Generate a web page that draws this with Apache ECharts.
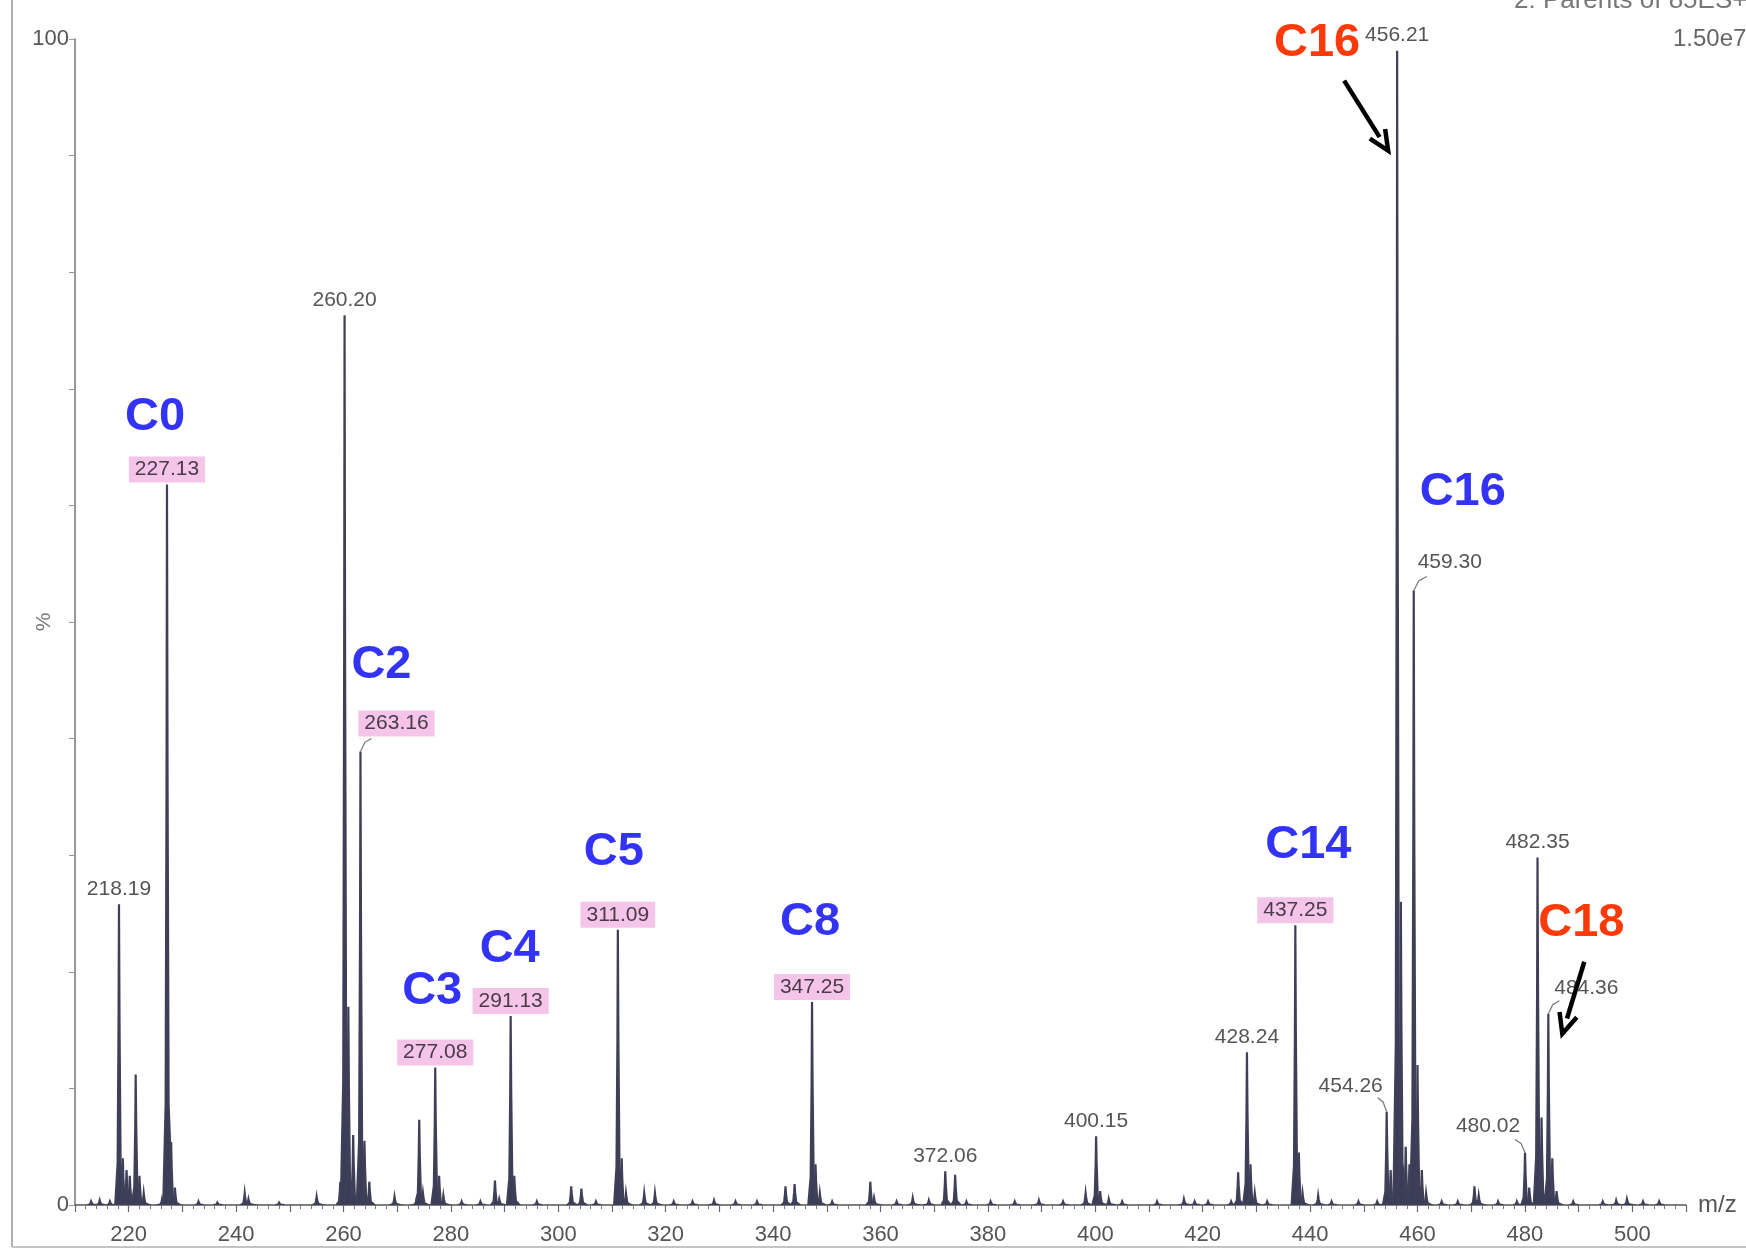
<!DOCTYPE html>
<html><head><meta charset="utf-8">
<script src="https://cdn.jsdelivr.net/npm/echarts@6/dist/echarts.min.js"></script>
<style>html,body{margin:0;padding:0;background:#fff}#c{width:1746px;height:1253px}</style>
</head><body><div id="c"></div>
<script>
// ---------- DATA ----------
const peakMz = [213.0,214.6,216.5,218.19,218.9,219.6,220.2,221.3,222.0,222.8,226.2,227.13,227.9,228.6,233.0,236.5,241.6,242.3,248.0,255.0,
  259.4,260.20,260.9,261.8,263.16,263.9,264.8,269.5,273.6,274.1,274.8,277.08,277.8,278.6,282.0,285.5,288.2,289.0,291.13,291.8,
  296.0,302.4,304.3,307.0,311.09,311.8,312.6,316.0,318.0,321.5,325.0,329.0,333.0,337.0,342.3,344.0,347.25,347.9,348.7,351.0,
  358.1,358.8,363.0,366.0,369.0,372.06,373.9,376.0,380.5,385.0,389.5,394.0,398.2,400.15,400.9,402.5,405.0,411.5,416.5,418.5,
  421.0,425.3,426.6,428.24,428.9,429.7,432.0,437.25,437.9,438.6,441.5,444.0,449.0,452.5,454.26,455.0,456.21,456.9,457.8,458.5,
  459.30,460.0,460.8,461.6,464.5,467.5,470.6,471.4,475.0,478.5,480.02,480.8,482.35,483.1,484.36,485.1,485.9,489.0,494.5,497.0,
  499.0,502.0,505.0];
const peakPct = [0.3,0.4,0.3,25.8,4.0,3.0,2.5,11.2,2.5,1.0,0.5,61.8,5.4,1.5,0.3,0.2,1.0,0.5,0.2,0.7,
  2.0,76.3,17.0,6.0,38.9,5.5,2.0,0.7,0.5,7.3,1.0,11.8,2.5,0.8,0.3,0.3,2.1,0.5,16.2,2.5,
  0.3,1.6,1.4,0.3,23.6,4.0,1.0,1.0,1.0,0.3,0.3,0.4,0.3,0.3,1.6,1.8,17.4,3.5,1.0,0.3,
  2.0,0.6,0.3,0.6,0.4,2.9,2.6,0.3,0.3,0.3,0.4,0.3,1.0,5.9,1.2,0.5,0.3,0.3,0.5,0.3,
  0.3,0.3,2.8,13.1,3.5,1.0,0.3,24.0,4.5,1.0,0.8,0.3,0.3,0.3,8.0,3.0,99.0,26.0,5.0,3.5,
  52.7,12.0,3.0,1.0,0.3,0.3,1.6,0.8,0.3,0.3,4.5,1.5,29.8,7.5,16.4,4.0,1.2,0.3,0.3,0.4,
  0.5,0.3,0.3];
const labelMz = [218.19,227.13,260.20,263.16,277.08,291.13,311.09,347.25,372.06,400.15,428.24,437.25,454.26,456.21,459.30,480.02,482.35,484.36];
const highlightedMz = [227.13,263.16,277.08,291.13,311.09,347.25,437.25];
const annotText  = ['C0','C2','C3','C4','C5','C8','C14','C16','C16','C18'];
const annotPeak  = [227.13,263.16,277.08,291.13,311.09,347.25,437.25,459.30,456.21,484.36];
const annotColor = ['blue','blue','blue','blue','blue','blue','blue','blue','red','red'];
const xTickLabels = [220,240,260,280,300,320,340,360,380,400,420,440,460,480,500];
const yTickLabels = [0,100];

// ---------- LAYOUT (pixel offsets, not data) ----------
const FONT = '"Liberation Sans", Arial, sans-serif';
const COLORS = {blue:'#3333f5', red:'#ff3a0a'};
const labelLayout = {
  '263.16': {t:[36,-28], l:[11,-13]},
  '454.26': {t:[-36,-26], l:[-9,-14]},
  '459.30': {t:[36,-28], l:[13,-14]},
  '480.02': {t:[-37,-26], l:[-10,-13]},
  '484.36': {t:[38,-26], l:[11,-13]}
};
const annotLayout = {
  'C0@227.13':[-12,-67], 'C2@263.16':[21,-86], 'C3@277.08':[-3,-76], 'C4@291.13':[-1,-67],
  'C5@311.09':[-4,-78], 'C8@347.25':[-2,-80], 'C14@437.25':[13,-80], 'C16@459.3':[49,-98],
  'C16@456.21':[-80,-8], 'C18@484.36':[33,-91]
};
const arrowLayout = {
  'C16@456.21': [[-53,30],[-9,100]],
  'C18@484.36': [[36,-52],[14,20]]
};

function pctOf(mz){ return peakPct[peakMz.indexOf(mz)]; }

const peakData = peakMz.map((m,i)=>[m, peakPct[i]]);
const labelData = labelMz.map(m=>[m, pctOf(m)]);
const annotData = annotPeak.map((m,i)=>[m, pctOf(m), i]);

const chart = echarts.init(document.getElementById('c'), null, {renderer:'canvas'});
chart.setOption({
  animation:false,
  backgroundColor:'#ffffff',
  grid:{left:75, right:60, top:39, bottom:48},
  xAxis:{
    type:'value', min:210, max:510, interval:10,
    axisLine:{show:true, onZero:false, lineStyle:{color:'#555', width:1.5}},
    axisTick:{show:true, length:7, lineStyle:{color:'#666', width:1.2}},
    minorTick:{show:true, splitNumber:5, length:4, lineStyle:{color:'#777'}},
    splitLine:{show:false},
    axisLabel:{color:'#555', fontSize:22, fontFamily:FONT, margin:19,
      formatter:v=> xTickLabels.indexOf(v)>=0 ? String(v) : ''},
    name:'m/z', nameLocation:'end', nameGap:12,
    nameTextStyle:{color:'#555', fontSize:24, fontFamily:FONT, verticalAlign:'middle'}
  },
  yAxis:{
    type:'value', min:0, max:100, interval:10,
    axisLine:{show:true, lineStyle:{color:'#777', width:1.5}},
    axisTick:{show:true, length:6, lineStyle:{color:'#999'}},
    splitLine:{show:false},
    axisLabel:{color:'#555', fontSize:22, fontFamily:FONT, margin:6,
      formatter:v=> yTickLabels.indexOf(v)>=0 ? String(v) : ''},
    name:'%', nameLocation:'middle', nameGap:20, nameRotate:90, nameMoveOverlap:false,
    nameTextStyle:{color:'#777', fontSize:21, fontFamily:FONT}
  },
  graphic:[
    {type:'line', shape:{x1:12,y1:0,x2:12,y2:1247}, style:{stroke:'#b0b0b0', lineWidth:2}, silent:true},
    {type:'line', shape:{x1:12,y1:1247,x2:1746,y2:1247}, style:{stroke:'#c4c4c4', lineWidth:2}, silent:true},
    {type:'text', left:1514, top:-12, style:{text:'2: Parents of 85ES+', fill:'#777', font:'26px '+FONT}},
    {type:'text', left:1673, top:27, style:{text:'1.50e7', fill:'#666', font:'24px '+FONT}}
  ],
  series:[
    {
      type:'custom', name:'peaks', data:peakData, clip:true,
      renderItem:function(params, api){
        const m = api.value(0), h = api.value(1);
        const shape = [[m-0.7,0],[m-0.25,h*0.14],[m-0.08,h*0.6],[m,h],[m+0.1,h*0.6],[m+0.3,h*0.14],[m+1.0,0]];
        return {type:'polygon', shape:{points:shape.map(p=>api.coord(p))},
          style:{fill:'#3b3c58', stroke:'#3f4058', lineWidth:2.2}};
      }
    },
    {
      type:'custom', name:'labels', data:labelData, clip:false, z:5,
      renderItem:function(params, api){
        const m = api.value(0), h = api.value(1);
        const p = api.coord([m,h]);
        const key = m.toFixed(2);
        const lay = labelLayout[key] || {t:[0,-15]};
        const hl = highlightedMz.indexOf(m) >= 0;
        const children = [];
        if (lay.l) {
          children.push({type:'polyline', shape:{points:[[p[0],p[1]],[p[0]+lay.l[0]*0.4,p[1]+lay.l[1]*0.7],[p[0]+lay.l[0],p[1]+lay.l[1]]]},
            style:{stroke:'#777', lineWidth:1.2, fill:null}});
        }
        children.push({type:'text', x:p[0]+lay.t[0], y:p[1]+lay.t[1],
          style:{text:key, fill: hl ? '#4a3a4a' : '#555', font:'21px '+FONT,
            align:'center', verticalAlign:'middle', textAlign:'center', textVerticalAlign:'middle',
            backgroundColor: hl ? 'rgba(236,150,215,0.55)' : null, padding: hl ? [3,6,2,6] : 0}});
        return {type:'group', children:children};
      }
    },
    {
      type:'custom', name:'annotations', data:annotData, clip:false, z:6,
      renderItem:function(params, api){
        const m = api.value(0), h = api.value(1), i = api.value(2);
        const p = api.coord([m,h]);
        const key = annotText[i] + '@' + m;
        const off = annotLayout[key] || [0,-70];
        const children = [{type:'text', x:p[0]+off[0], y:p[1]+off[1],
          style:{text:annotText[i], fill:COLORS[annotColor[i]], font:'bold 47px '+FONT,
            align:'center', verticalAlign:'middle', textAlign:'center', textVerticalAlign:'middle'}}];
        const arr = arrowLayout[key];
        if (arr) {
          const a = [p[0]+arr[0][0], p[1]+arr[0][1]], b = [p[0]+arr[1][0], p[1]+arr[1][1]];
          const dx = b[0]-a[0], dy = b[1]-a[1], len = Math.hypot(dx,dy), ux = dx/len, uy = dy/len;
          const hs = 20, hw = 9;
          const base = [b[0]-ux*hs, b[1]-uy*hs];
          children.push({type:'line', shape:{x1:a[0],y1:a[1],x2:base[0]+ux*4,y2:base[1]+uy*4}, style:{stroke:'#000', lineWidth:4.5}});
          children.push({type:'polyline', shape:{points:[[base[0]-uy*hw,base[1]+ux*hw],[b[0],b[1]],[base[0]+uy*hw,base[1]-ux*hw]]},
            style:{stroke:'#000', lineWidth:4.5, fill:null, lineJoin:'miter'}});
        }
        return {type:'group', children:children};
      }
    }
  ]
});
</script>
</body></html>
